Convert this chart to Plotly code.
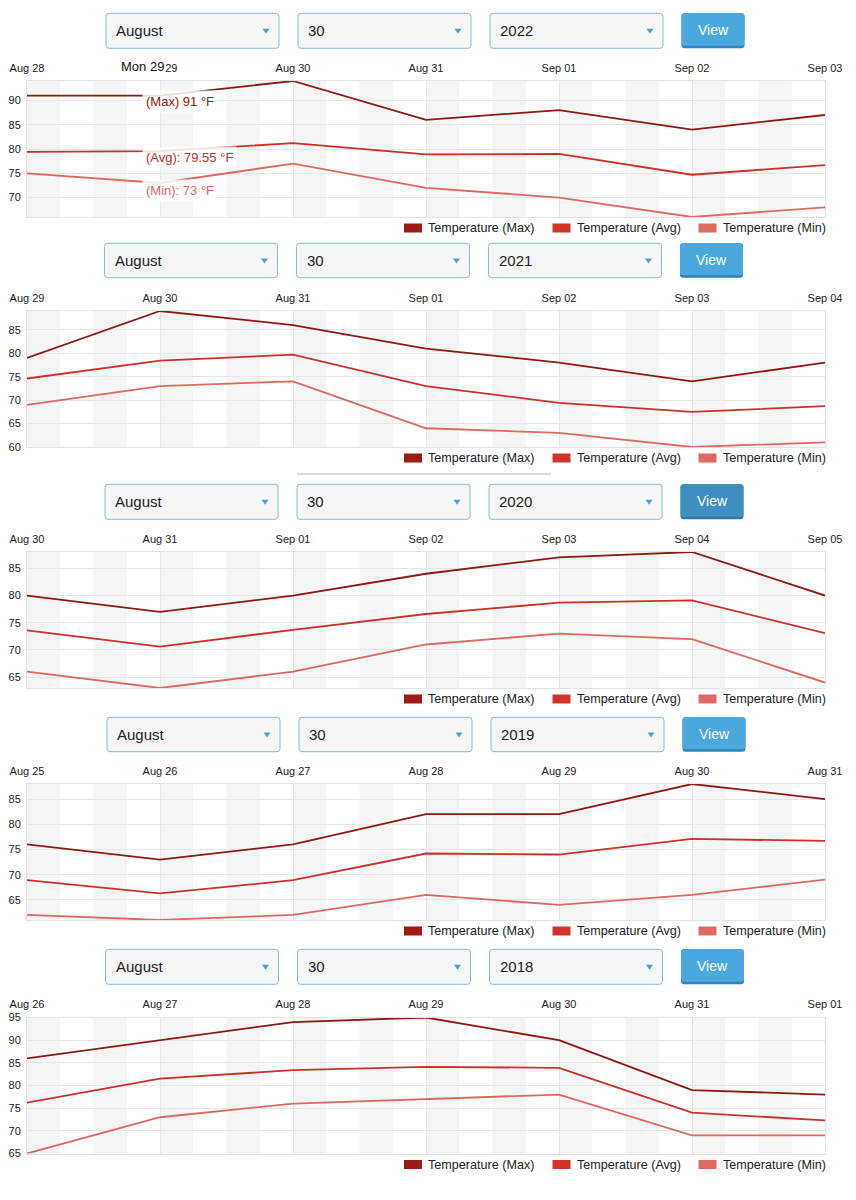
import plotly.graph_objects as go
import pandas as pd

# ---------------- DATA ----------------
years = ['2022', '2021', '2020', '2019', '2018']
month_label = 'August'
day_label = '30'
series_names = ['Temperature (Max)', 'Temperature (Avg)', 'Temperature (Min)']

dates_2022 = ['2022-08-28', '2022-08-29', '2022-08-30', '2022-08-31', '2022-09-01', '2022-09-02', '2022-09-03']
max_2022 = [91, 91, 94, 86, 88, 84, 87]
avg_2022 = [79.4, 79.55, 81.2, 78.9, 79.0, 74.7, 76.7]
min_2022 = [75, 73, 77, 72, 70, 66, 68]

dates_2021 = ['2021-08-29', '2021-08-30', '2021-08-31', '2021-09-01', '2021-09-02', '2021-09-03', '2021-09-04']
max_2021 = [79, 89, 86, 81, 78, 74, 78]
avg_2021 = [74.6, 78.4, 79.7, 73.0, 69.4, 67.5, 68.7]
min_2021 = [69, 73, 74, 64, 63, 60, 61]

dates_2020 = ['2020-08-30', '2020-08-31', '2020-09-01', '2020-09-02', '2020-09-03', '2020-09-04', '2020-09-05']
max_2020 = [80, 77, 80, 84, 87, 88, 80]
avg_2020 = [73.6, 70.6, 73.7, 76.6, 78.7, 79.1, 73.1]
min_2020 = [66, 63, 66, 71, 73, 72, 64]

dates_2019 = ['2019-08-25', '2019-08-26', '2019-08-27', '2019-08-28', '2019-08-29', '2019-08-30', '2019-08-31']
max_2019 = [76, 73, 76, 82, 82, 88, 85]
avg_2019 = [68.9, 66.3, 68.9, 74.2, 74.0, 77.1, 76.7]
min_2019 = [62, 61, 62, 66, 64, 66, 69]

dates_2018 = ['2018-08-26', '2018-08-27', '2018-08-28', '2018-08-29', '2018-08-30', '2018-08-31', '2018-09-01']
max_2018 = [86, 90, 94, 95, 90, 79, 78]
avg_2018 = [76.2, 81.5, 83.4, 84.1, 83.9, 74.0, 72.3]
min_2018 = [65, 73, 76, 77, 78, 69, 69]

hover_day = 'Mon 29'
hover_index = 1  # Aug 29 of the first panel

panels = [
    (dates_2022, max_2022, avg_2022, min_2022),
    (dates_2021, max_2021, avg_2021, min_2021),
    (dates_2020, max_2020, avg_2020, min_2020),
    (dates_2019, max_2019, avg_2019, min_2019),
    (dates_2018, max_2018, avg_2018, min_2018),
]

# ---------------- STYLE / LAYOUT ----------------
W, H = 856, 1200
FONT = 'Liberation Sans, Arial, Helvetica, sans-serif'
colors = ['#8f1810', '#cc3028', '#e0675f']
legend_colors = ['#9c1b13', '#cf3329', '#df6a62']

def px(x):
    return x / W

def py(y):
    return 1 - y / H

PLOT_L, PLOT_R = 27, 825
plot_tb = [(81, 217), (311, 447), (552, 688), (784, 920), (1017.5, 1153.5)]
ctrl_tb = [(13.3, 48.3), (243.3, 277.7), (484.3, 519.3), (717.3, 751.7), (949.3, 984.3)]
ctrl_x0 = [106, 104.5, 105, 107, 105.5]
button_colors = ['#4aa8dc', '#4aa8dc', '#3d8fc0', '#4aa8dc', '#4aa8dc']
button_shadow = ['#2f85b8', '#2f85b8', '#2f7aa6', '#2f85b8', '#2f85b8']

fig = go.Figure()
shapes = []
annotations = []
layout_axes = {}


def rounded_rect(x0, y0, x1, y1, r=3):
    X0, X1 = px(x0), px(x1)
    Y0, Y1 = py(y1), py(y0)
    rx, ry = r / W, r / H
    return (f'M {X0+rx},{Y0} L {X1-rx},{Y0} Q {X1},{Y0} {X1},{Y0+ry} '
            f'L {X1},{Y1-ry} Q {X1},{Y1} {X1-rx},{Y1} L {X0+rx},{Y1} '
            f'Q {X0},{Y1} {X0},{Y1-ry} L {X0},{Y0+ry} Q {X0},{Y0} {X0+rx},{Y0} Z')


for i, (dates, vmax, vavg, vmin) in enumerate(panels):
    n = i + 1
    xa = 'x' if n == 1 else f'x{n}'
    ya = 'y' if n == 1 else f'y{n}'
    top, bot = plot_tb[i]

    for vals, name, col in zip([vmax, vavg, vmin], series_names, colors):
        fig.add_trace(go.Scatter(
            x=dates, y=vals, mode='lines', name=name,
            line=dict(color=col, width=1.8),
            xaxis=xa, yaxis=ya, showlegend=False, hoverinfo='skip'))

    ymin = min(vmin)
    ymax = max(vmax)
    layout_axes[f'xaxis{n if n > 1 else ""}'] = dict(
        domain=[px(PLOT_L), px(PLOT_R)], anchor=ya, side='top', type='date',
        range=[dates[0], dates[-1]], tickformat='%b %d', dtick=86400000,
        tick0=dates[0], showgrid=True, gridcolor='#e6e6e6', gridwidth=1,
        showline=True, linecolor='#e3e3e3', mirror=True, zeroline=False,
        ticks='', tickfont=dict(size=11, color='#222', family=FONT),
        ticklabelstandoff=4, automargin=False, fixedrange=True)
    layout_axes[f'yaxis{n if n > 1 else ""}'] = dict(
        domain=[py(bot), py(top)], anchor=xa, range=[ymin, ymax],
        dtick=5, tick0=0, showgrid=True, gridcolor='#e6e6e6', gridwidth=1,
        showline=True, linecolor='#e3e3e3', mirror=True, zeroline=False,
        ticks='', tickfont=dict(size=11, color='#222', family=FONT),
        ticklabelstandoff=3, automargin=False, fixedrange=True)

    # alternating 6-hour stripes
    for d in dates[:-1]:
        t = pd.Timestamp(d)
        for a, b in [(0, 6), (12, 18)]:
            shapes.append(dict(
                type='rect', xref=xa, yref=f'{ya} domain',
                x0=(t + pd.Timedelta(hours=a)).strftime('%Y-%m-%d %H:%M'),
                x1=(t + pd.Timedelta(hours=b)).strftime('%Y-%m-%d %H:%M'),
                y0=0, y1=1, fillcolor='#f5f5f5', line=dict(width=0), layer='below'))

    # controls
    ct, cb = ctrl_tb[i]
    x0 = ctrl_x0[i]
    labels = [month_label, day_label, years[i]]
    for k in range(3):
        bx0 = x0 + k * 192
        bx1 = bx0 + 173
        shapes.append(dict(type='path', xref='paper', yref='paper',
                           path=rounded_rect(bx0, ct, bx1, cb, 3),
                           fillcolor='#f6f6f6', line=dict(color='#7fbde0', width=1)))
        annotations.append(dict(xref='paper', yref='paper', x=px(bx0 + 8), y=py((ct + cb) / 2),
                                xanchor='left', yanchor='middle', text=labels[k], showarrow=False,
                                font=dict(size=15, color='#222', family=FONT)))
        ax = bx1 - 13
        ay = (ct + cb) / 2
        shapes.append(dict(type='path', xref='paper', yref='paper',
                           path=f'M {px(ax-3.5)},{py(ay-2)} L {px(ax+3.5)},{py(ay-2)} L {px(ax)},{py(ay+3)} Z',
                           fillcolor='#4aa3d6', line=dict(width=0)))
    bx0 = x0 + 3 * 192 - 0.5
    bx1 = bx0 + 63
    shapes.append(dict(type='path', xref='paper', yref='paper',
                       path=rounded_rect(bx0, ct, bx1, cb, 3),
                       fillcolor=button_shadow[i], line=dict(width=0)))
    shapes.append(dict(type='path', xref='paper', yref='paper',
                       path=rounded_rect(bx0, ct, bx1, cb - 2.5, 3),
                       fillcolor=button_colors[i], line=dict(width=0)))
    annotations.append(dict(xref='paper', yref='paper', x=px((bx0 + bx1) / 2), y=py((ct + cb) / 2 - 1),
                            xanchor='center', yanchor='middle', text='View', showarrow=False,
                            font=dict(size=14, color='white', family=FONT)))

    # legend (drawn)
    ly = bot + 11
    leg_sq = [404, 552.5, 698.5]
    for sx, name, col in zip(leg_sq, series_names, legend_colors):
        shapes.append(dict(type='rect', xref='paper', yref='paper',
                           x0=px(sx), x1=px(sx + 18), y0=py(ly + 4.5), y1=py(ly - 4.5),
                           fillcolor=col, line=dict(width=0)))
        annotations.append(dict(xref='paper', yref='paper', x=px(sx + 22), y=py(ly),
                                xanchor='left', yanchor='middle', text=name, showarrow=False,
                                font=dict(size=12.6, color='#222', family=FONT)))

# separator line above the third panel's controls
shapes.append(dict(type='line', xref='paper', yref='paper',
                   x0=px(297), x1=px(551), y0=py(474), y1=py(474),
                   line=dict(color='#b5b5b5', width=1)))

# hover tooltip in the first panel
d0, m0, a0, n0 = panels[0]
annotations.append(dict(xref='paper', yref='paper', x=px(165), y=py(67),
                        xanchor='right', yanchor='middle', text=hover_day, showarrow=False,
                        bgcolor='white', borderpad=0,
                        font=dict(size=13, color='#111', family=FONT)))
tips = [
    (f'(Max) {m0[hover_index]} °F', 102, colors[0]),
    (f'(Avg): {a0[hover_index]} °F', 158, '#c0302a'),
    (f'(Min): {n0[hover_index]} °F', 190, colors[2]),
]
for txt, ty, col in tips:
    annotations.append(dict(xref='paper', yref='paper', x=px(142), y=py(ty),
                            xanchor='left', yanchor='middle', text=txt, showarrow=False,
                            bgcolor='rgba(255,255,255,0.85)', borderpad=3,
                            font=dict(size=13, color=col, family=FONT)))

fig.update_layout(
    width=W, height=H, margin=dict(l=0, r=0, t=0, b=0, autoexpand=False),
    paper_bgcolor='white', plot_bgcolor='white',
    font=dict(family=FONT, color='#222'),
    showlegend=False, shapes=shapes, annotations=annotations,
    **layout_axes)

fig.write_html('out.html')
